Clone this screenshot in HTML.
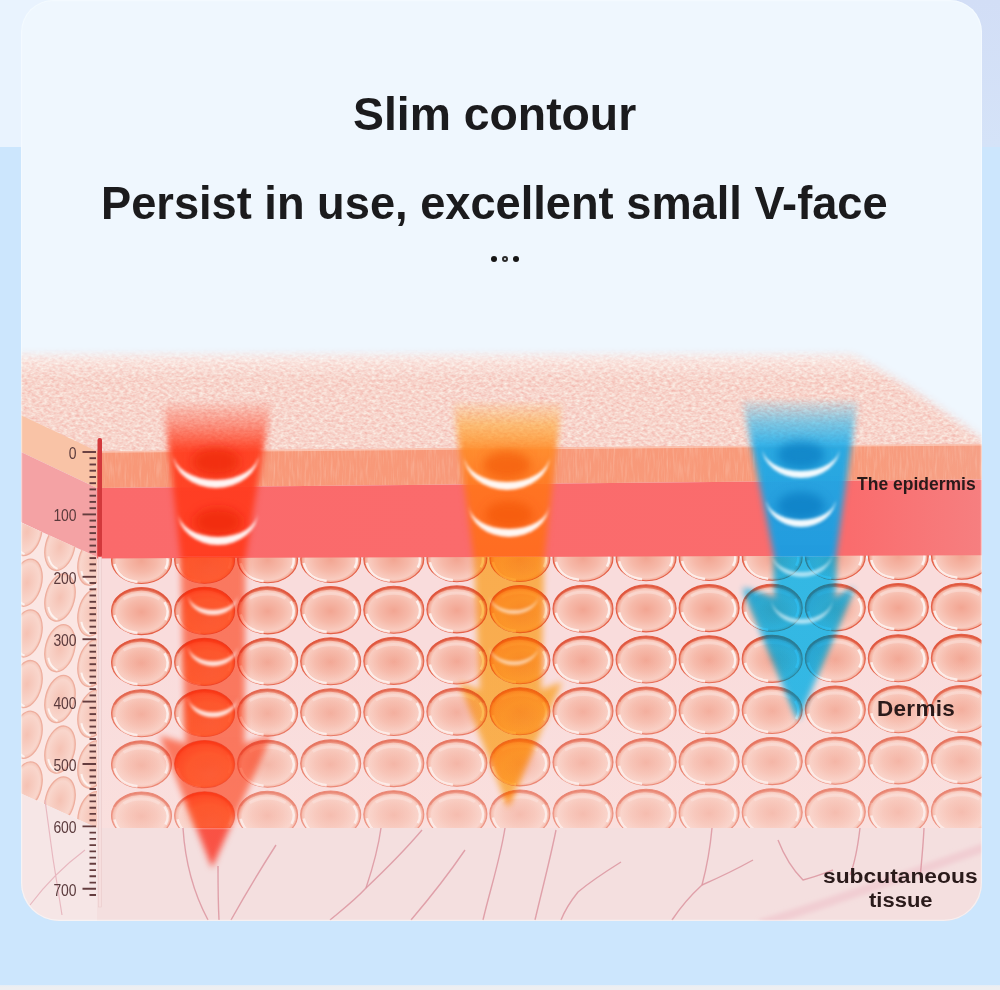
<!DOCTYPE html>
<html><head><meta charset="utf-8"><style>
html,body{margin:0;padding:0;width:1000px;height:990px;overflow:hidden;background:#cce6fd;}
#bgtop{position:absolute;left:0;top:0;width:1000px;height:147px;background:#e9f3fe;}
#bgright{position:absolute;left:940px;top:0;width:60px;height:147px;background:linear-gradient(180deg,#d2def6,#d5e3f8);}
#bot{position:absolute;left:0;top:985px;width:1000px;height:5px;background:linear-gradient(#e4edf6,#eeeff1 40%);}
#card{position:absolute;left:21px;top:0px;width:961px;height:921px;border-radius:32px 32px 38px 38px;overflow:hidden;background:#eff7fe;}
#card::after{content:'';position:absolute;left:0;top:0;right:0;bottom:0;border-radius:inherit;box-shadow:inset 0 0 0 1.2px rgba(248,253,255,0.55);pointer-events:none;}
#card svg{position:absolute;left:-21px;top:0;}
.t{position:absolute;font-family:"Liberation Sans",sans-serif;font-weight:bold;color:#1b1b1d;white-space:nowrap;transform-origin:0 0;line-height:1;}
.lab{position:absolute;font-family:"Liberation Sans",sans-serif;font-weight:bold;color:#2a1a1a;white-space:nowrap;transform-origin:0 0;line-height:1;}
#dots{position:absolute;left:490px;top:256px;width:30px;height:7px;}
.d{position:absolute;top:0.2px;width:6.2px;height:6.2px;border-radius:50%;background:#151515;}
.d:nth-child(1){left:0.6px}.d:nth-child(2){left:11.9px}.d:nth-child(3){left:23.2px}
.d.o{background:transparent;box-sizing:border-box;border:2px solid #2a2a2a;}
.rl{font-family:"Liberation Sans",sans-serif;font-size:16px;fill:#5a3a3c;}
</style></head><body>
<div id="bgtop"></div><div id="bgright"></div><div id="bot"></div>
<div id="card">
<svg width="1000" height="925" viewBox="0 0 1000 925">
<defs>
 <radialGradient id="cellg" cx="0.5" cy="0.52" r="0.5">
  <stop offset="0" stop-color="#f2a592"/>
  <stop offset="0.5" stop-color="#f6b9a9"/>
  <stop offset="0.84" stop-color="#f9ccc0"/>
  <stop offset="0.94" stop-color="#f4ab98"/>
  <stop offset="1" stop-color="#e4654a"/>
 </radialGradient>
 <radialGradient id="cellside" cx="0.5" cy="0.5" r="0.55">
  <stop offset="0" stop-color="#f5c2b4"/>
  <stop offset="0.75" stop-color="#f9d6cc"/>
  <stop offset="1" stop-color="#f2baa9"/>
 </radialGradient>
 <g id="cell">
  <ellipse cx="0" cy="0" rx="30" ry="23.5" fill="url(#cellg)" stroke="#e46048" stroke-width="1.1"/>
  <path d="M-27,-9 C-20,-24 14,-28 27,-9" fill="none" stroke="#dc4a32" stroke-opacity="0.55" stroke-width="2.6"/>
  <path d="M-27,4 C-24,16 -14,21 -4,22" fill="none" stroke="#fff" stroke-opacity="0.75" stroke-width="2.6" filter="url(#blur06)"/>
  <path d="M23,-9 C27,-3 27,4 24,9" fill="none" stroke="#fff" stroke-opacity="0.75" stroke-width="2.6" filter="url(#blur06)"/>
  <path d="M-18,-12 C-8,-18 8,-18 18,-12" fill="none" stroke="#fff" stroke-opacity="0.25" stroke-width="3"/>
 </g>
 <filter id="noise" x="0" y="0" width="100%" height="100%" color-interpolation-filters="sRGB">
  <feTurbulence type="fractalNoise" baseFrequency="0.25 0.4" numOctaves="2" seed="7" result="n"/>
  <feColorMatrix in="n" type="matrix" values="0.05 0 0 0 0.945  0.3 0 0 0 0.685  0.3 0 0 0 0.65  0 0 0 0 1" result="c"/>
  <feComposite in="c" in2="SourceGraphic" operator="in"/>
 </filter>
 <linearGradient id="topfade" x1="0" y1="0" x2="0" y2="1">
  <stop offset="0" stop-color="#fff" stop-opacity="0"/>
  <stop offset="1" stop-color="#fff" stop-opacity="1"/>
 </linearGradient>
 <filter id="stripes" x="0" y="0" width="100%" height="100%" color-interpolation-filters="sRGB">
  <feTurbulence type="fractalNoise" baseFrequency="0.45 0.05" numOctaves="2" seed="3" result="n"/>
  <feColorMatrix in="n" type="matrix" values="0 0 0 0 1  0 0 0 0 0.88  0 0 0 0 0.82  0.6 0 0 0 -0.26" result="c"/>
  <feComposite in="c" in2="SourceGraphic" operator="in"/>
 </filter>
 <filter id="blur35" x="-20%" y="-20%" width="140%" height="140%"><feGaussianBlur stdDeviation="3.2"/></filter>
 <filter id="blur4" x="-10%" y="-30%" width="120%" height="160%"><feGaussianBlur stdDeviation="4"/></filter>
 <mask id="topmask" maskUnits="userSpaceOnUse" x="0" y="300" width="1000" height="200"><path d="M-20,356 L852,356 C900,378 945,412 1000,452 L1000,480 L-20,480 Z" fill="#fff" filter="url(#blur4)"/></mask>
 <filter id="blur2"><feGaussianBlur stdDeviation="2"/></filter>
 <filter id="blur06" x="-50%" y="-50%" width="200%" height="200%"><feGaussianBlur stdDeviation="0.7"/></filter>
 <filter id="blur5" x="-30%" y="-30%" width="160%" height="160%"><feGaussianBlur stdDeviation="5"/></filter>
 <filter id="blur15" x="-20%" y="-20%" width="140%" height="140%"><feGaussianBlur stdDeviation="1.5"/></filter>
<linearGradient id="g_red" gradientUnits="userSpaceOnUse" x1="0" y1="0" x2="0" y2="920"><stop offset="0.4326" stop-color="#ff3a1c" stop-opacity="0"/><stop offset="0.4620" stop-color="#ff3a1c" stop-opacity="0.45"/><stop offset="0.4880" stop-color="#ff3a1c" stop-opacity="0.9"/><stop offset="0.6043" stop-color="#ff3a1c" stop-opacity="0.92"/><stop offset="0.6065" stop-color="#ff4a2a" stop-opacity="0.2"/><stop offset="0.8978" stop-color="#ff4a2a" stop-opacity="0.25"/><stop offset="0.9022" stop-color="#fa3a2a" stop-opacity="0.85"/><stop offset="0.9457" stop-color="#fa3a2a" stop-opacity="0.85"/></linearGradient>
<mask id="m_red" maskUnits="userSpaceOnUse" x="0" y="0" width="1000" height="920"><path d="M163,400 L272,400 L245,560 L244,744 L271,736 L212,868 L160,736 L186,744 L181,560 Z" fill="#fff" filter="url(#blur35)"/></mask>
<radialGradient id="c_red" cx="0.55" cy="0.6" r="0.6" fx="0.6" fy="0.7"><stop offset="0" stop-color="#ff5020" stop-opacity="0.75"/><stop offset="0.6" stop-color="#ff5020"/><stop offset="1" stop-color="#ff300c"/></radialGradient>
<linearGradient id="g_org" gradientUnits="userSpaceOnUse" x1="0" y1="0" x2="0" y2="920"><stop offset="0.4326" stop-color="#ffa42a" stop-opacity="0"/><stop offset="0.4620" stop-color="#ffa42a" stop-opacity="0.55"/><stop offset="0.4880" stop-color="#ff8a24" stop-opacity="0.88"/><stop offset="0.5326" stop-color="#ff7418" stop-opacity="0.88"/><stop offset="0.6043" stop-color="#ff6c18" stop-opacity="0.88"/><stop offset="0.6065" stop-color="#ffb830" stop-opacity="0.1"/><stop offset="0.8978" stop-color="#ffb830" stop-opacity="0.12"/><stop offset="0.9022" stop-color="#ffa820" stop-opacity="0.9"/><stop offset="0.9457" stop-color="#ffa820" stop-opacity="0.9"/></linearGradient>
<mask id="m_org" maskUnits="userSpaceOnUse" x="0" y="0" width="1000" height="920"><path d="M453,400 L562,400 L544,560 L541,690 L562,682 L508,807 L459,682 L480,690 L474,560 Z" fill="#fff" filter="url(#blur35)"/></mask>
<radialGradient id="c_org" cx="0.55" cy="0.6" r="0.6" fx="0.6" fy="0.7"><stop offset="0" stop-color="#ff8c10" stop-opacity="0.75"/><stop offset="0.6" stop-color="#ff8c10"/><stop offset="1" stop-color="#ff6a00"/></radialGradient>
<linearGradient id="g_blu" gradientUnits="userSpaceOnUse" x1="0" y1="0" x2="0" y2="920"><stop offset="0.4304" stop-color="#18b4f0" stop-opacity="0"/><stop offset="0.4598" stop-color="#18b4f0" stop-opacity="0.55"/><stop offset="0.4880" stop-color="#18aaea" stop-opacity="0.92"/><stop offset="0.6043" stop-color="#169ee4" stop-opacity="0.95"/><stop offset="0.6065" stop-color="#18c0f4" stop-opacity="0.4"/><stop offset="0.8978" stop-color="#18c0f4" stop-opacity="0.4"/></linearGradient>
<mask id="m_blu" maskUnits="userSpaceOnUse" x="0" y="0" width="1000" height="920"><path d="M742,398 L858,398 L836,555 L834,599 L854,588 L798,720 L743,588 L776,599 L774,555 Z" fill="#fff" filter="url(#blur35)"/></mask>
<radialGradient id="c_blu" cx="0.55" cy="0.6" r="0.6" fx="0.6" fy="0.7"><stop offset="0" stop-color="#20b0e8" stop-opacity="0.75"/><stop offset="0.6" stop-color="#20b0e8"/><stop offset="1" stop-color="#1080c0"/></radialGradient>
 <clipPath id="sideclip"><path d="M0,513 L97,557 L97,828 L0,784 Z"/></clipPath>
 <linearGradient id="cellfade" x1="0" y1="0" x2="0" y2="1"><stop offset="0" stop-color="#fbe4e0" stop-opacity="0"/><stop offset="1" stop-color="#fbe4e0" stop-opacity="0.4"/></linearGradient>
 <linearGradient id="orgrad" gradientUnits="userSpaceOnUse" x1="97" y1="0" x2="982" y2="0"><stop offset="0" stop-color="#f89878"/><stop offset="0.85" stop-color="#f89a7a"/><stop offset="1" stop-color="#f6a086"/></linearGradient>
 <linearGradient id="pkgrad" gradientUnits="userSpaceOnUse" x1="97" y1="0" x2="982" y2="0"><stop offset="0" stop-color="#fa6a6b"/><stop offset="0.85" stop-color="#fa6c6d"/><stop offset="1" stop-color="#f67f80"/></linearGradient>
 <linearGradient id="fringe" x1="0" y1="0" x2="0" y2="1"><stop offset="0" stop-color="#fff" stop-opacity="0.55"/><stop offset="1" stop-color="#fff" stop-opacity="0"/></linearGradient>
 <clipPath id="arrowcells"><rect x="97" y="557" width="903" height="271"/></clipPath>
 <clipPath id="frontcells"><rect x="97" y="540" width="903" height="288"/></clipPath>
</defs>

<g mask="url(#topmask)">
 <path d="M0,340 L1000,340 L1000,444.8 L97,452.2 L0,406.2 Z" fill="#f2b9aa" filter="url(#noise)"/>
</g>

<rect x="0" y="350" width="1000" height="30" fill="url(#fringe)" mask="url(#topmask)"/>
<path d="M0,405.2 L97,451.2 L97,488 L0,442 Z" fill="#f9c3a6"/>
<path d="M0,442 L97,488 L97,558.4 L0,512.4 Z" fill="#f4a2a4"/>
<path d="M0,513 L97,557 L97,828 L0,784 Z" fill="#fbe6e3"/>
<g clip-path="url(#sideclip)"><ellipse cx="27" cy="481.3" rx="14.5" ry="24" transform="rotate(14 27 481.3)" fill="url(#cellside)" stroke="#eeae9e" stroke-width="1.3"/>
<path d="M18,493.3 q4,9 12,10" fill="none" stroke="#fff" stroke-opacity="0.7" stroke-width="2" transform="rotate(14 27 481.3)"/>
<ellipse cx="60" cy="496.2" rx="14.5" ry="24" transform="rotate(14 60 496.2)" fill="url(#cellside)" stroke="#eeae9e" stroke-width="1.3"/>
<path d="M51,508.15000000000003 q4,9 12,10" fill="none" stroke="#fff" stroke-opacity="0.7" stroke-width="2" transform="rotate(14 60 496.2)"/>
<ellipse cx="93" cy="511.0" rx="14.5" ry="24" transform="rotate(14 93 511.0)" fill="url(#cellside)" stroke="#eeae9e" stroke-width="1.3"/>
<path d="M84,523.0 q4,9 12,10" fill="none" stroke="#fff" stroke-opacity="0.7" stroke-width="2" transform="rotate(14 93 511.0)"/>
<ellipse cx="27" cy="532.0" rx="14.5" ry="24" transform="rotate(14 27 532.0)" fill="url(#cellside)" stroke="#eeae9e" stroke-width="1.3"/>
<path d="M18,544.0 q4,9 12,10" fill="none" stroke="#fff" stroke-opacity="0.7" stroke-width="2" transform="rotate(14 27 532.0)"/>
<ellipse cx="60" cy="546.9" rx="14.5" ry="24" transform="rotate(14 60 546.9)" fill="url(#cellside)" stroke="#eeae9e" stroke-width="1.3"/>
<path d="M51,558.85 q4,9 12,10" fill="none" stroke="#fff" stroke-opacity="0.7" stroke-width="2" transform="rotate(14 60 546.9)"/>
<ellipse cx="93" cy="561.7" rx="14.5" ry="24" transform="rotate(14 93 561.7)" fill="url(#cellside)" stroke="#eeae9e" stroke-width="1.3"/>
<path d="M84,573.7 q4,9 12,10" fill="none" stroke="#fff" stroke-opacity="0.7" stroke-width="2" transform="rotate(14 93 561.7)"/>
<ellipse cx="27" cy="582.7" rx="14.5" ry="24" transform="rotate(14 27 582.7)" fill="url(#cellside)" stroke="#eeae9e" stroke-width="1.3"/>
<path d="M18,594.7 q4,9 12,10" fill="none" stroke="#fff" stroke-opacity="0.7" stroke-width="2" transform="rotate(14 27 582.7)"/>
<ellipse cx="60" cy="597.6" rx="14.5" ry="24" transform="rotate(14 60 597.6)" fill="url(#cellside)" stroke="#eeae9e" stroke-width="1.3"/>
<path d="M51,609.5500000000001 q4,9 12,10" fill="none" stroke="#fff" stroke-opacity="0.7" stroke-width="2" transform="rotate(14 60 597.6)"/>
<ellipse cx="93" cy="612.4" rx="14.5" ry="24" transform="rotate(14 93 612.4)" fill="url(#cellside)" stroke="#eeae9e" stroke-width="1.3"/>
<path d="M84,624.4000000000001 q4,9 12,10" fill="none" stroke="#fff" stroke-opacity="0.7" stroke-width="2" transform="rotate(14 93 612.4)"/>
<ellipse cx="27" cy="633.4" rx="14.5" ry="24" transform="rotate(14 27 633.4)" fill="url(#cellside)" stroke="#eeae9e" stroke-width="1.3"/>
<path d="M18,645.4 q4,9 12,10" fill="none" stroke="#fff" stroke-opacity="0.7" stroke-width="2" transform="rotate(14 27 633.4)"/>
<ellipse cx="60" cy="648.2" rx="14.5" ry="24" transform="rotate(14 60 648.2)" fill="url(#cellside)" stroke="#eeae9e" stroke-width="1.3"/>
<path d="M51,660.25 q4,9 12,10" fill="none" stroke="#fff" stroke-opacity="0.7" stroke-width="2" transform="rotate(14 60 648.2)"/>
<ellipse cx="93" cy="663.1" rx="14.5" ry="24" transform="rotate(14 93 663.1)" fill="url(#cellside)" stroke="#eeae9e" stroke-width="1.3"/>
<path d="M84,675.1 q4,9 12,10" fill="none" stroke="#fff" stroke-opacity="0.7" stroke-width="2" transform="rotate(14 93 663.1)"/>
<ellipse cx="27" cy="684.1" rx="14.5" ry="24" transform="rotate(14 27 684.1)" fill="url(#cellside)" stroke="#eeae9e" stroke-width="1.3"/>
<path d="M18,696.1 q4,9 12,10" fill="none" stroke="#fff" stroke-opacity="0.7" stroke-width="2" transform="rotate(14 27 684.1)"/>
<ellipse cx="60" cy="699.0" rx="14.5" ry="24" transform="rotate(14 60 699.0)" fill="url(#cellside)" stroke="#eeae9e" stroke-width="1.3"/>
<path d="M51,710.95 q4,9 12,10" fill="none" stroke="#fff" stroke-opacity="0.7" stroke-width="2" transform="rotate(14 60 699.0)"/>
<ellipse cx="93" cy="713.8" rx="14.5" ry="24" transform="rotate(14 93 713.8)" fill="url(#cellside)" stroke="#eeae9e" stroke-width="1.3"/>
<path d="M84,725.8000000000001 q4,9 12,10" fill="none" stroke="#fff" stroke-opacity="0.7" stroke-width="2" transform="rotate(14 93 713.8)"/>
<ellipse cx="27" cy="734.8" rx="14.5" ry="24" transform="rotate(14 27 734.8)" fill="url(#cellside)" stroke="#eeae9e" stroke-width="1.3"/>
<path d="M18,746.8 q4,9 12,10" fill="none" stroke="#fff" stroke-opacity="0.7" stroke-width="2" transform="rotate(14 27 734.8)"/>
<ellipse cx="60" cy="749.6" rx="14.5" ry="24" transform="rotate(14 60 749.6)" fill="url(#cellside)" stroke="#eeae9e" stroke-width="1.3"/>
<path d="M51,761.65 q4,9 12,10" fill="none" stroke="#fff" stroke-opacity="0.7" stroke-width="2" transform="rotate(14 60 749.6)"/>
<ellipse cx="93" cy="764.5" rx="14.5" ry="24" transform="rotate(14 93 764.5)" fill="url(#cellside)" stroke="#eeae9e" stroke-width="1.3"/>
<path d="M84,776.5 q4,9 12,10" fill="none" stroke="#fff" stroke-opacity="0.7" stroke-width="2" transform="rotate(14 93 764.5)"/>
<ellipse cx="27" cy="785.5" rx="14.5" ry="24" transform="rotate(14 27 785.5)" fill="url(#cellside)" stroke="#eeae9e" stroke-width="1.3"/>
<path d="M18,797.5 q4,9 12,10" fill="none" stroke="#fff" stroke-opacity="0.7" stroke-width="2" transform="rotate(14 27 785.5)"/>
<ellipse cx="60" cy="800.4" rx="14.5" ry="24" transform="rotate(14 60 800.4)" fill="url(#cellside)" stroke="#eeae9e" stroke-width="1.3"/>
<path d="M51,812.35 q4,9 12,10" fill="none" stroke="#fff" stroke-opacity="0.7" stroke-width="2" transform="rotate(14 60 800.4)"/>
<ellipse cx="93" cy="815.2" rx="14.5" ry="24" transform="rotate(14 93 815.2)" fill="url(#cellside)" stroke="#eeae9e" stroke-width="1.3"/>
<path d="M84,827.2 q4,9 12,10" fill="none" stroke="#fff" stroke-opacity="0.7" stroke-width="2" transform="rotate(14 93 815.2)"/>
<ellipse cx="27" cy="836.2" rx="14.5" ry="24" transform="rotate(14 27 836.2)" fill="url(#cellside)" stroke="#eeae9e" stroke-width="1.3"/>
<path d="M18,848.2 q4,9 12,10" fill="none" stroke="#fff" stroke-opacity="0.7" stroke-width="2" transform="rotate(14 27 836.2)"/>
<ellipse cx="60" cy="851.1" rx="14.5" ry="24" transform="rotate(14 60 851.1)" fill="url(#cellside)" stroke="#eeae9e" stroke-width="1.3"/>
<path d="M51,863.0500000000001 q4,9 12,10" fill="none" stroke="#fff" stroke-opacity="0.7" stroke-width="2" transform="rotate(14 60 851.1)"/>
<ellipse cx="93" cy="865.9" rx="14.5" ry="24" transform="rotate(14 93 865.9)" fill="url(#cellside)" stroke="#eeae9e" stroke-width="1.3"/>
<path d="M84,877.9000000000001 q4,9 12,10" fill="none" stroke="#fff" stroke-opacity="0.7" stroke-width="2" transform="rotate(14 93 865.9)"/></g>
<path d="M0,784 L97,828 L97,925 L0,925 Z" fill="#f6e6e6"/>
<path d="M45,800 C50,840 56,880 62,915 M30,905 C45,885 65,865 85,850" fill="none" stroke="#e8b8c0" stroke-width="1.2"/>

<path d="M97,451.2 L1000,443.8 L1000,479.2 L97,488 Z" fill="url(#orgrad)"/>
<path d="M97,451.2 L1000,443.8 L1000,479.2 L97,488 Z" fill="#fff" filter="url(#stripes)"/>
<path d="M97,452.0 L1000,444.6" stroke="#fcd2c4" stroke-width="1.5" opacity="0.7"/>
<rect x="97" y="558.4" width="903" height="269.6" fill="#f9dcdc"/>
<g clip-path="url(#frontcells)">
<use href="#cell" x="141.5" y="560.0"/>
<use href="#cell" x="204.6" y="559.7"/>
<use href="#cell" x="267.6" y="559.3"/>
<use href="#cell" x="330.7" y="559.0"/>
<use href="#cell" x="393.8" y="558.7"/>
<use href="#cell" x="456.9" y="558.3"/>
<use href="#cell" x="519.9" y="558.0"/>
<use href="#cell" x="583.0" y="557.7"/>
<use href="#cell" x="646.1" y="557.3"/>
<use href="#cell" x="709.1" y="557.0"/>
<use href="#cell" x="772.2" y="556.7"/>
<use href="#cell" x="835.3" y="556.3"/>
<use href="#cell" x="898.3" y="556.0"/>
<use href="#cell" x="961.4" y="555.7"/>
<use href="#cell" x="141.5" y="611.1"/>
<use href="#cell" x="204.6" y="610.8"/>
<use href="#cell" x="267.6" y="610.4"/>
<use href="#cell" x="330.7" y="610.1"/>
<use href="#cell" x="393.8" y="609.8"/>
<use href="#cell" x="456.9" y="609.4"/>
<use href="#cell" x="519.9" y="609.1"/>
<use href="#cell" x="583.0" y="608.8"/>
<use href="#cell" x="646.1" y="608.4"/>
<use href="#cell" x="709.1" y="608.1"/>
<use href="#cell" x="772.2" y="607.8"/>
<use href="#cell" x="835.3" y="607.4"/>
<use href="#cell" x="898.3" y="607.1"/>
<use href="#cell" x="961.4" y="606.8"/>
<use href="#cell" x="141.5" y="662.2"/>
<use href="#cell" x="204.6" y="661.9"/>
<use href="#cell" x="267.6" y="661.5"/>
<use href="#cell" x="330.7" y="661.2"/>
<use href="#cell" x="393.8" y="660.9"/>
<use href="#cell" x="456.9" y="660.5"/>
<use href="#cell" x="519.9" y="660.2"/>
<use href="#cell" x="583.0" y="659.9"/>
<use href="#cell" x="646.1" y="659.5"/>
<use href="#cell" x="709.1" y="659.2"/>
<use href="#cell" x="772.2" y="658.9"/>
<use href="#cell" x="835.3" y="658.5"/>
<use href="#cell" x="898.3" y="658.2"/>
<use href="#cell" x="961.4" y="657.9"/>
<use href="#cell" x="141.5" y="713.3"/>
<use href="#cell" x="204.6" y="713.0"/>
<use href="#cell" x="267.6" y="712.6"/>
<use href="#cell" x="330.7" y="712.3"/>
<use href="#cell" x="393.8" y="712.0"/>
<use href="#cell" x="456.9" y="711.6"/>
<use href="#cell" x="519.9" y="711.3"/>
<use href="#cell" x="583.0" y="711.0"/>
<use href="#cell" x="646.1" y="710.6"/>
<use href="#cell" x="709.1" y="710.3"/>
<use href="#cell" x="772.2" y="710.0"/>
<use href="#cell" x="835.3" y="709.6"/>
<use href="#cell" x="898.3" y="709.3"/>
<use href="#cell" x="961.4" y="709.0"/>
<use href="#cell" x="141.5" y="764.4"/>
<use href="#cell" x="204.6" y="764.1"/>
<use href="#cell" x="267.6" y="763.7"/>
<use href="#cell" x="330.7" y="763.4"/>
<use href="#cell" x="393.8" y="763.1"/>
<use href="#cell" x="456.9" y="762.7"/>
<use href="#cell" x="519.9" y="762.4"/>
<use href="#cell" x="583.0" y="762.1"/>
<use href="#cell" x="646.1" y="761.7"/>
<use href="#cell" x="709.1" y="761.4"/>
<use href="#cell" x="772.2" y="761.1"/>
<use href="#cell" x="835.3" y="760.7"/>
<use href="#cell" x="898.3" y="760.4"/>
<use href="#cell" x="961.4" y="760.1"/>
<use href="#cell" x="141.5" y="815.5"/>
<use href="#cell" x="204.6" y="815.2"/>
<use href="#cell" x="267.6" y="814.8"/>
<use href="#cell" x="330.7" y="814.5"/>
<use href="#cell" x="393.8" y="814.2"/>
<use href="#cell" x="456.9" y="813.8"/>
<use href="#cell" x="519.9" y="813.5"/>
<use href="#cell" x="583.0" y="813.2"/>
<use href="#cell" x="646.1" y="812.8"/>
<use href="#cell" x="709.1" y="812.5"/>
<use href="#cell" x="772.2" y="812.2"/>
<use href="#cell" x="835.3" y="811.8"/>
<use href="#cell" x="898.3" y="811.5"/>
<use href="#cell" x="961.4" y="811.2"/>
</g>
<rect x="97" y="640" width="903" height="188" fill="url(#cellfade)"/>
<path d="M97,488 L1000,479.2 L1000,555.1 L97,558.4 Z" fill="url(#pkgrad)"/>
<rect x="97" y="828" width="903" height="97" fill="#f4dfdf"/>
<path d="M760,924 C840,900 920,870 1000,842" fill="none" stroke="#efc0c8" stroke-width="9" stroke-opacity="0.55" filter="url(#blur2)"/><path d="M183,828 C185,860 192,890 208,920" fill="none" stroke="#dc95a0" stroke-width="1.4" stroke-opacity="0.85"/>
<path d="M218,866 C218,885 218,900 219,920" fill="none" stroke="#dc95a0" stroke-width="1.4" stroke-opacity="0.85"/>
<path d="M276,845 C260,870 245,895 231,920" fill="none" stroke="#dc95a0" stroke-width="1.4" stroke-opacity="0.85"/>
<path d="M381,828 C378,850 372,870 366,888 C355,900 342,910 330,920" fill="none" stroke="#dc95a0" stroke-width="1.4" stroke-opacity="0.85"/>
<path d="M422,830 C405,850 385,870 366,888" fill="none" stroke="#dc95a0" stroke-width="1.4" stroke-opacity="0.85"/>
<path d="M465,850 C448,875 428,900 411,920" fill="none" stroke="#dc95a0" stroke-width="1.4" stroke-opacity="0.85"/>
<path d="M505,828 C500,860 490,890 483,920" fill="none" stroke="#dc95a0" stroke-width="1.4" stroke-opacity="0.85"/>
<path d="M556,830 C550,860 542,890 535,920" fill="none" stroke="#dc95a0" stroke-width="1.4" stroke-opacity="0.85"/>
<path d="M621,862 C605,872 590,882 578,892 C570,902 565,910 561,920" fill="none" stroke="#dc95a0" stroke-width="1.4" stroke-opacity="0.85"/>
<path d="M702,885 C690,896 680,908 672,920" fill="none" stroke="#dc95a0" stroke-width="1.4" stroke-opacity="0.85"/>
<path d="M753,860 C735,870 718,878 702,885" fill="none" stroke="#dc95a0" stroke-width="1.4" stroke-opacity="0.85"/>
<path d="M712,828 C710,850 706,870 702,885" fill="none" stroke="#dc95a0" stroke-width="1.4" stroke-opacity="0.85"/>
<path d="M778,840 C785,858 795,872 803,880 C815,877 825,873 833,870" fill="none" stroke="#dc95a0" stroke-width="1.4" stroke-opacity="0.85"/>
<path d="M924,828 C923,850 921,865 920,880" fill="none" stroke="#dc95a0" stroke-width="1.4" stroke-opacity="0.85"/>
<path d="M860,828 C858,845 856,860 850,875" fill="none" stroke="#dc95a0" stroke-width="1.4" stroke-opacity="0.85"/>

<rect x="97.5" y="438" width="4.5" height="119" rx="2" fill="#d2393c"/>
<rect x="98.5" y="557" width="3" height="350" fill="#f6dede" stroke="#e8c6c6" stroke-width="0.5"/>
<line x1="82.5" y1="452.0" x2="96" y2="452.0" stroke="#643c3e" stroke-width="1.9"/>
<line x1="89.5" y1="458.2" x2="96" y2="458.2" stroke="#643c3e" stroke-width="1.9"/>
<line x1="89.5" y1="464.5" x2="96" y2="464.5" stroke="#643c3e" stroke-width="1.9"/>
<line x1="89.5" y1="470.7" x2="96" y2="470.7" stroke="#643c3e" stroke-width="1.9"/>
<line x1="89.5" y1="477.0" x2="96" y2="477.0" stroke="#643c3e" stroke-width="1.9"/>
<line x1="89.5" y1="483.2" x2="96" y2="483.2" stroke="#643c3e" stroke-width="1.9"/>
<line x1="89.5" y1="489.4" x2="96" y2="489.4" stroke="#643c3e" stroke-width="1.9"/>
<line x1="89.5" y1="495.7" x2="96" y2="495.7" stroke="#643c3e" stroke-width="1.9"/>
<line x1="89.5" y1="501.9" x2="96" y2="501.9" stroke="#643c3e" stroke-width="1.9"/>
<line x1="89.5" y1="508.2" x2="96" y2="508.2" stroke="#643c3e" stroke-width="1.9"/>
<line x1="82.5" y1="514.4" x2="96" y2="514.4" stroke="#643c3e" stroke-width="1.9"/>
<line x1="89.5" y1="520.6" x2="96" y2="520.6" stroke="#643c3e" stroke-width="1.9"/>
<line x1="89.5" y1="526.9" x2="96" y2="526.9" stroke="#643c3e" stroke-width="1.9"/>
<line x1="89.5" y1="533.1" x2="96" y2="533.1" stroke="#643c3e" stroke-width="1.9"/>
<line x1="89.5" y1="539.4" x2="96" y2="539.4" stroke="#643c3e" stroke-width="1.9"/>
<line x1="89.5" y1="545.6" x2="96" y2="545.6" stroke="#643c3e" stroke-width="1.9"/>
<line x1="89.5" y1="551.8" x2="96" y2="551.8" stroke="#643c3e" stroke-width="1.9"/>
<line x1="89.5" y1="558.1" x2="96" y2="558.1" stroke="#643c3e" stroke-width="1.9"/>
<line x1="89.5" y1="564.3" x2="96" y2="564.3" stroke="#643c3e" stroke-width="1.9"/>
<line x1="89.5" y1="570.6" x2="96" y2="570.6" stroke="#643c3e" stroke-width="1.9"/>
<line x1="82.5" y1="576.8" x2="96" y2="576.8" stroke="#643c3e" stroke-width="1.9"/>
<line x1="89.5" y1="583.0" x2="96" y2="583.0" stroke="#643c3e" stroke-width="1.9"/>
<line x1="89.5" y1="589.3" x2="96" y2="589.3" stroke="#643c3e" stroke-width="1.9"/>
<line x1="89.5" y1="595.5" x2="96" y2="595.5" stroke="#643c3e" stroke-width="1.9"/>
<line x1="89.5" y1="601.8" x2="96" y2="601.8" stroke="#643c3e" stroke-width="1.9"/>
<line x1="89.5" y1="608.0" x2="96" y2="608.0" stroke="#643c3e" stroke-width="1.9"/>
<line x1="89.5" y1="614.2" x2="96" y2="614.2" stroke="#643c3e" stroke-width="1.9"/>
<line x1="89.5" y1="620.5" x2="96" y2="620.5" stroke="#643c3e" stroke-width="1.9"/>
<line x1="89.5" y1="626.7" x2="96" y2="626.7" stroke="#643c3e" stroke-width="1.9"/>
<line x1="89.5" y1="633.0" x2="96" y2="633.0" stroke="#643c3e" stroke-width="1.9"/>
<line x1="82.5" y1="639.2" x2="96" y2="639.2" stroke="#643c3e" stroke-width="1.9"/>
<line x1="89.5" y1="645.4" x2="96" y2="645.4" stroke="#643c3e" stroke-width="1.9"/>
<line x1="89.5" y1="651.7" x2="96" y2="651.7" stroke="#643c3e" stroke-width="1.9"/>
<line x1="89.5" y1="657.9" x2="96" y2="657.9" stroke="#643c3e" stroke-width="1.9"/>
<line x1="89.5" y1="664.2" x2="96" y2="664.2" stroke="#643c3e" stroke-width="1.9"/>
<line x1="89.5" y1="670.4" x2="96" y2="670.4" stroke="#643c3e" stroke-width="1.9"/>
<line x1="89.5" y1="676.6" x2="96" y2="676.6" stroke="#643c3e" stroke-width="1.9"/>
<line x1="89.5" y1="682.9" x2="96" y2="682.9" stroke="#643c3e" stroke-width="1.9"/>
<line x1="89.5" y1="689.1" x2="96" y2="689.1" stroke="#643c3e" stroke-width="1.9"/>
<line x1="89.5" y1="695.4" x2="96" y2="695.4" stroke="#643c3e" stroke-width="1.9"/>
<line x1="82.5" y1="701.6" x2="96" y2="701.6" stroke="#643c3e" stroke-width="1.9"/>
<line x1="89.5" y1="707.8" x2="96" y2="707.8" stroke="#643c3e" stroke-width="1.9"/>
<line x1="89.5" y1="714.1" x2="96" y2="714.1" stroke="#643c3e" stroke-width="1.9"/>
<line x1="89.5" y1="720.3" x2="96" y2="720.3" stroke="#643c3e" stroke-width="1.9"/>
<line x1="89.5" y1="726.6" x2="96" y2="726.6" stroke="#643c3e" stroke-width="1.9"/>
<line x1="89.5" y1="732.8" x2="96" y2="732.8" stroke="#643c3e" stroke-width="1.9"/>
<line x1="89.5" y1="739.0" x2="96" y2="739.0" stroke="#643c3e" stroke-width="1.9"/>
<line x1="89.5" y1="745.3" x2="96" y2="745.3" stroke="#643c3e" stroke-width="1.9"/>
<line x1="89.5" y1="751.5" x2="96" y2="751.5" stroke="#643c3e" stroke-width="1.9"/>
<line x1="89.5" y1="757.8" x2="96" y2="757.8" stroke="#643c3e" stroke-width="1.9"/>
<line x1="82.5" y1="764.0" x2="96" y2="764.0" stroke="#643c3e" stroke-width="1.9"/>
<line x1="89.5" y1="770.2" x2="96" y2="770.2" stroke="#643c3e" stroke-width="1.9"/>
<line x1="89.5" y1="776.5" x2="96" y2="776.5" stroke="#643c3e" stroke-width="1.9"/>
<line x1="89.5" y1="782.7" x2="96" y2="782.7" stroke="#643c3e" stroke-width="1.9"/>
<line x1="89.5" y1="789.0" x2="96" y2="789.0" stroke="#643c3e" stroke-width="1.9"/>
<line x1="89.5" y1="795.2" x2="96" y2="795.2" stroke="#643c3e" stroke-width="1.9"/>
<line x1="89.5" y1="801.4" x2="96" y2="801.4" stroke="#643c3e" stroke-width="1.9"/>
<line x1="89.5" y1="807.7" x2="96" y2="807.7" stroke="#643c3e" stroke-width="1.9"/>
<line x1="89.5" y1="813.9" x2="96" y2="813.9" stroke="#643c3e" stroke-width="1.9"/>
<line x1="89.5" y1="820.2" x2="96" y2="820.2" stroke="#643c3e" stroke-width="1.9"/>
<line x1="82.5" y1="826.4" x2="96" y2="826.4" stroke="#643c3e" stroke-width="1.9"/>
<line x1="89.5" y1="832.6" x2="96" y2="832.6" stroke="#643c3e" stroke-width="1.9"/>
<line x1="89.5" y1="838.9" x2="96" y2="838.9" stroke="#643c3e" stroke-width="1.9"/>
<line x1="89.5" y1="845.1" x2="96" y2="845.1" stroke="#643c3e" stroke-width="1.9"/>
<line x1="89.5" y1="851.4" x2="96" y2="851.4" stroke="#643c3e" stroke-width="1.9"/>
<line x1="89.5" y1="857.6" x2="96" y2="857.6" stroke="#643c3e" stroke-width="1.9"/>
<line x1="89.5" y1="863.8" x2="96" y2="863.8" stroke="#643c3e" stroke-width="1.9"/>
<line x1="89.5" y1="870.1" x2="96" y2="870.1" stroke="#643c3e" stroke-width="1.9"/>
<line x1="89.5" y1="876.3" x2="96" y2="876.3" stroke="#643c3e" stroke-width="1.9"/>
<line x1="89.5" y1="882.6" x2="96" y2="882.6" stroke="#643c3e" stroke-width="1.9"/>
<line x1="82.5" y1="888.8" x2="96" y2="888.8" stroke="#643c3e" stroke-width="1.9"/>
<line x1="89.5" y1="895.0" x2="96" y2="895.0" stroke="#643c3e" stroke-width="1.9"/>
<text transform="translate(76.6,458.9) scale(0.87,1)" text-anchor="end" class="rl">0</text>
<text transform="translate(76.6,521.3) scale(0.87,1)" text-anchor="end" class="rl">100</text>
<text transform="translate(76.6,583.7) scale(0.87,1)" text-anchor="end" class="rl">200</text>
<text transform="translate(76.6,646.1) scale(0.87,1)" text-anchor="end" class="rl">300</text>
<text transform="translate(76.6,708.5) scale(0.87,1)" text-anchor="end" class="rl">400</text>
<text transform="translate(76.6,770.9) scale(0.87,1)" text-anchor="end" class="rl">500</text>
<text transform="translate(76.6,833.3) scale(0.87,1)" text-anchor="end" class="rl">600</text>
<text transform="translate(76.6,895.7) scale(0.87,1)" text-anchor="end" class="rl">700</text>
<g mask="url(#m_red)" style="mix-blend-mode:multiply"><rect x="150" y="557" width="135" height="271" fill="#ff9a80"/></g>
<g mask="url(#m_red)">
<rect x="150" y="396" width="135" height="480" fill="url(#g_red)"/>
<g clip-path="url(#arrowcells)">
<ellipse cx="204.57" cy="559.7" rx="30" ry="23.5" fill="url(#c_red)" opacity="0.72"/>
<ellipse cx="204.57" cy="610.8" rx="30" ry="23.5" fill="url(#c_red)" opacity="0.72"/>
<ellipse cx="204.57" cy="661.9" rx="30" ry="23.5" fill="url(#c_red)" opacity="0.72"/>
<ellipse cx="204.57" cy="713.0" rx="30" ry="23.5" fill="url(#c_red)" opacity="0.72"/>
<ellipse cx="204.57" cy="764.1" rx="30" ry="23.5" fill="url(#c_red)" opacity="0.72"/>
<ellipse cx="204.57" cy="815.2" rx="30" ry="23.5" fill="url(#c_red)" opacity="0.72"/>
</g></g>
<g mask="url(#m_org)" style="mix-blend-mode:multiply"><rect x="445" y="557" width="130" height="271" fill="#ffc860"/></g>
<g mask="url(#m_org)">
<rect x="445" y="396" width="130" height="480" fill="url(#g_org)"/>
<g clip-path="url(#arrowcells)">
<ellipse cx="519.9200000000001" cy="558.0" rx="30" ry="23.5" fill="url(#c_org)" opacity="0.5"/>
<ellipse cx="519.9200000000001" cy="609.1" rx="30" ry="23.5" fill="url(#c_org)" opacity="0.5"/>
<ellipse cx="519.9200000000001" cy="660.2" rx="30" ry="23.5" fill="url(#c_org)" opacity="0.5"/>
<ellipse cx="519.9200000000001" cy="711.3" rx="30" ry="23.5" fill="url(#c_org)" opacity="0.5"/>
<ellipse cx="519.9200000000001" cy="762.4" rx="30" ry="23.5" fill="url(#c_org)" opacity="0.5"/>
<ellipse cx="519.9200000000001" cy="813.5" rx="30" ry="23.5" fill="url(#c_org)" opacity="0.5"/>
</g></g>
<g mask="url(#m_blu)" style="mix-blend-mode:multiply"><rect x="730" y="557" width="140" height="271" fill="#48cefc"/></g>
<g mask="url(#m_blu)">
<rect x="730" y="396" width="140" height="480" fill="url(#g_blu)"/>
<g clip-path="url(#arrowcells)">
<ellipse cx="772.2" cy="556.7" rx="30" ry="23.5" fill="url(#c_blu)" opacity="0.3"/>
<ellipse cx="772.2" cy="607.8" rx="30" ry="23.5" fill="url(#c_blu)" opacity="0.3"/>
<ellipse cx="772.2" cy="658.9" rx="30" ry="23.5" fill="url(#c_blu)" opacity="0.3"/>
<ellipse cx="772.2" cy="710.0" rx="30" ry="23.5" fill="url(#c_blu)" opacity="0.3"/>
<ellipse cx="772.2" cy="761.1" rx="30" ry="23.5" fill="url(#c_blu)" opacity="0.3"/>
<ellipse cx="772.2" cy="812.2" rx="30" ry="23.5" fill="url(#c_blu)" opacity="0.3"/>
<ellipse cx="835.27" cy="556.3" rx="30" ry="23.5" fill="url(#c_blu)" opacity="0.3"/>
<ellipse cx="835.27" cy="607.4" rx="30" ry="23.5" fill="url(#c_blu)" opacity="0.3"/>
<ellipse cx="835.27" cy="658.5" rx="30" ry="23.5" fill="url(#c_blu)" opacity="0.3"/>
<ellipse cx="835.27" cy="709.6" rx="30" ry="23.5" fill="url(#c_blu)" opacity="0.3"/>
<ellipse cx="835.27" cy="760.7" rx="30" ry="23.5" fill="url(#c_blu)" opacity="0.3"/>
<ellipse cx="835.27" cy="811.8" rx="30" ry="23.5" fill="url(#c_blu)" opacity="0.3"/>
</g></g>
<g filter="url(#blur5)">
<ellipse cx="216" cy="462" rx="24" ry="14" fill="#e8200a" opacity="0.55"/>
<ellipse cx="218" cy="522" rx="24" ry="14" fill="#e8200a" opacity="0.55"/>
<ellipse cx="507" cy="465" rx="24" ry="14" fill="#f05008" opacity="0.55"/>
<ellipse cx="509" cy="515" rx="24" ry="14" fill="#f05008" opacity="0.55"/>
<ellipse cx="801" cy="455" rx="24" ry="14" fill="#0a70b8" opacity="0.55"/>
<ellipse cx="801" cy="506" rx="24" ry="14" fill="#0a70b8" opacity="0.55"/>
</g>
<g filter="url(#blur15)">
<path d="M173,453 A43,35 0 0 0 259,453 A43,27 0 0 1 173,453 Z" fill="#fff" fill-opacity="0.95"/>
<path d="M178,512 A40,33 0 0 0 258,512 A40,25 0 0 1 178,512 Z" fill="#fff" fill-opacity="0.95"/>
<path d="M188,594.1 A25,21 0 0 0 238,594.1 A25,16 0 0 1 188,594.1 Z" fill="#fff" fill-opacity="0.85"/>
<path d="M188,645.2 A25,21 0 0 0 238,645.2 A25,16 0 0 1 188,645.2 Z" fill="#fff" fill-opacity="0.85"/>
<path d="M188,696.3 A25,21 0 0 0 238,696.3 A25,16 0 0 1 188,696.3 Z" fill="#fff" fill-opacity="0.85"/>
<path d="M464,455 A43,35 0 0 0 550,455 A43,27 0 0 1 464,455 Z" fill="#fff" fill-opacity="0.95"/>
<path d="M469,505 A40,32 0 0 0 549,505 A40,24 0 0 1 469,505 Z" fill="#fff" fill-opacity="0.95"/>
<path d="M489,594.1 A25,20 0 0 0 539,594.1 A25,16 0 0 1 489,594.1 Z" fill="#fff" fill-opacity="0.6"/>
<path d="M489,645.2 A25,20 0 0 0 539,645.2 A25,16 0 0 1 489,645.2 Z" fill="#fff" fill-opacity="0.6"/>
<path d="M762,447 A39,31 0 0 0 840,447 A39,24 0 0 1 762,447 Z" fill="#fff" fill-opacity="0.95"/>
<path d="M766,498 A35,29 0 0 0 836,498 A35,22 0 0 1 766,498 Z" fill="#fff" fill-opacity="0.95"/>
<path d="M771,551 A31,26 0 0 0 833,551 A31,21 0 0 1 771,551 Z" fill="#fff" fill-opacity="0.6"/>
<path d="M771,598 A31,26 0 0 0 833,598 A31,21 0 0 1 771,598 Z" fill="#fff" fill-opacity="0.6"/>
</g>
</svg>
</div>
<div class="t" id="t1" style="left:352.5px;top:90px;font-size:47px;transform:scaleX(0.986)">Slim contour</div>
<div class="t" id="t2" style="left:100.5px;top:179.3px;font-size:47px;transform:scaleX(0.962)">Persist in use, excellent small V-face</div>
<div id="dots"><i class="d"></i><i class="d o"></i><i class="d"></i></div>
<div class="lab" id="l1" style="left:857px;top:475.5px;font-size:17.5px;">The epidermis</div>
<div class="lab" id="l2" style="left:877px;top:697.5px;font-size:22.5px;letter-spacing:0.3px;">Dermis</div>
<div class="lab" id="l3" style="left:822.7px;top:866px;font-size:20px;transform:scaleX(1.14);">subcutaneous</div>
<div class="lab" id="l4" style="left:868.5px;top:890px;font-size:20px;transform:scaleX(1.1);">tissue</div>
</body></html>
